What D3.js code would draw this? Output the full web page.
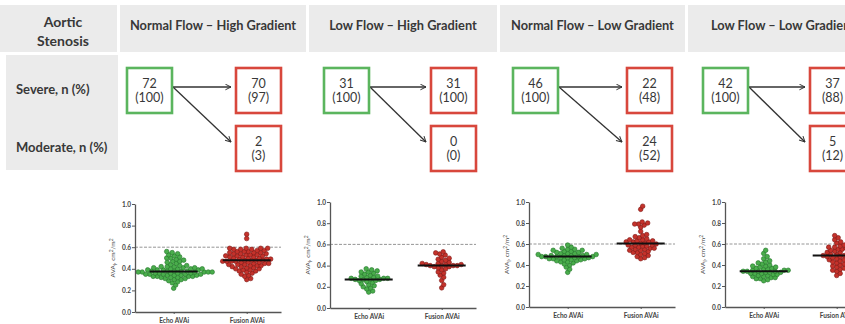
<!DOCTYPE html>
<html>
<head>
<meta charset="utf-8">
<script src="https://cdn.jsdelivr.net/npm/d3@7"></script>
<style>
  body { margin: 0; background: #fff; }
  svg { display: block; font-family: Lato, "Open Sans", sans-serif; }
</style>
</head>
<body>
<div id="chart"></div>
<script>
// ---- data ----
const categories = ["Normal Flow \u2013 High Gradient", "Low Flow \u2013 High Gradient",
                    "Normal Flow \u2013 Low Gradient", "Low Flow \u2013 Low Gradient"];
const rowLabels = ["Severe, n (%)", "Moderate, n (%)"];
const echoSevere = [72, 31, 46, 42];
const fusionSevere = [70, 31, 22, 37];
const fusionModerate = [2, 0, 24, 5];
const groupLabels = ["Echo AVAi", "Fusion AVAi"];
const yTicks = [0, 0.2, 0.4, 0.6, 0.8, 1.0];
const cutoff = 0.6;

// AVAi values (cm2/m2), one array per group
const echoNFHG = [0.22, 0.25, 0.27, 0.28, 0.29, 0.30, 0.30, 0.31, 0.31, 0.32,
  0.32, 0.32, 0.33, 0.33, 0.33, 0.33, 0.34, 0.34, 0.34, 0.34,
  0.35, 0.35, 0.35, 0.35, 0.35, 0.36, 0.36, 0.36, 0.36, 0.36,
  0.37, 0.37, 0.37, 0.37, 0.37, 0.37, 0.38, 0.38, 0.38, 0.38,
  0.38, 0.39, 0.39, 0.39, 0.39, 0.40, 0.40, 0.40, 0.40, 0.41,
  0.41, 0.41, 0.42, 0.42, 0.42, 0.43, 0.43, 0.44, 0.45, 0.46,
  0.47, 0.47, 0.48, 0.49, 0.50, 0.50, 0.51, 0.52, 0.53, 0.54,
  0.55, 0.56];
const fusionNFHG = [0.30, 0.31, 0.33, 0.34, 0.35, 0.36, 0.37, 0.38, 0.38, 0.39,
  0.39, 0.40, 0.40, 0.41, 0.41, 0.42, 0.42, 0.43, 0.43, 0.43,
  0.44, 0.44, 0.44, 0.45, 0.45, 0.45, 0.46, 0.46, 0.46, 0.47,
  0.47, 0.47, 0.47, 0.48, 0.48, 0.48, 0.48, 0.49, 0.49, 0.49,
  0.50, 0.50, 0.50, 0.51, 0.51, 0.51, 0.52, 0.52, 0.52, 0.53,
  0.53, 0.53, 0.54, 0.54, 0.54, 0.55, 0.55, 0.55, 0.56, 0.56,
  0.56, 0.57, 0.57, 0.58, 0.58, 0.58, 0.59, 0.59, 0.59, 0.59,
  0.68, 0.72];
const echoLFHG = [0.15, 0.16, 0.18, 0.19, 0.20, 0.21, 0.22, 0.23, 0.24, 0.25,
  0.26, 0.26, 0.27, 0.27, 0.27, 0.27, 0.28, 0.28, 0.28, 0.29,
  0.29, 0.30, 0.30, 0.31, 0.32, 0.33, 0.34, 0.34, 0.35, 0.36,
  0.37];
const fusionLFHG = [0.19, 0.22, 0.26, 0.29, 0.31, 0.33, 0.34, 0.36, 0.37, 0.38,
  0.39, 0.39, 0.40, 0.40, 0.40, 0.40, 0.41, 0.41, 0.41, 0.42,
  0.42, 0.43, 0.44, 0.45, 0.46, 0.47, 0.48, 0.50, 0.51, 0.52,
  0.53];
const echoNFLG = [0.33, 0.36, 0.38, 0.40, 0.41, 0.42, 0.43, 0.43, 0.44, 0.44,
  0.45, 0.45, 0.45, 0.46, 0.46, 0.46, 0.47, 0.47, 0.47, 0.47,
  0.48, 0.48, 0.48, 0.48, 0.48, 0.49, 0.49, 0.49, 0.49, 0.50,
  0.50, 0.50, 0.51, 0.51, 0.51, 0.52, 0.52, 0.53, 0.53, 0.54,
  0.54, 0.55, 0.55, 0.56, 0.57, 0.59];
const fusionNFLG = [0.46, 0.47, 0.48, 0.49, 0.50, 0.51, 0.52, 0.52, 0.53, 0.54,
  0.54, 0.55, 0.55, 0.56, 0.56, 0.57, 0.57, 0.58, 0.58, 0.59,
  0.59, 0.59, 0.60, 0.61, 0.61, 0.62, 0.62, 0.62, 0.63, 0.63,
  0.64, 0.64, 0.65, 0.66, 0.67, 0.68, 0.69, 0.72, 0.76, 0.78,
  0.79, 0.79, 0.80, 0.81, 0.93, 0.96];
const echoLFLG = [0.25, 0.26, 0.27, 0.27, 0.28, 0.28, 0.29, 0.29, 0.30, 0.30,
  0.31, 0.31, 0.32, 0.32, 0.32, 0.33, 0.33, 0.33, 0.34, 0.34,
  0.34, 0.34, 0.35, 0.35, 0.35, 0.36, 0.36, 0.37, 0.37, 0.38,
  0.38, 0.39, 0.39, 0.40, 0.41, 0.42, 0.43, 0.44, 0.46, 0.48,
  0.51, 0.54];
const fusionLFLG = [0.30, 0.32, 0.34, 0.35, 0.36, 0.37, 0.38, 0.39, 0.40, 0.41,
  0.42, 0.43, 0.44, 0.45, 0.45, 0.46, 0.47, 0.47, 0.48, 0.48,
  0.49, 0.49, 0.50, 0.50, 0.51, 0.52, 0.52, 0.53, 0.54, 0.55,
  0.55, 0.56, 0.57, 0.57, 0.58, 0.59, 0.59, 0.61, 0.62, 0.64,
  0.66, 0.68];

const scatterData = [
  [echoNFHG, fusionNFHG],
  [echoLFHG, fusionLFHG],
  [echoNFLG, fusionNFLG],
  [echoLFLG, fusionLFLG]
];

// ---- layout ----
const width = 845, height = 324;
const cols = [
  { x: 120, w: 186, green: 127, red: 236, axisX: 135, y0: 312, y1: 204 },
  { x: 309, w: 188, green: 324, red: 431, axisX: 330, y0: 308, y1: 202 },
  { x: 500, w: 185, green: 513, red: 627, axisX: 529, y0: 307, y1: 202 },
  { x: 688, w: 190, green: 703, red: 810, axisX: 725, y0: 307, y1: 202 }
];
const boxW = 45, boxH = 45;
const severeY = 68, moderateY = 126;
const axisW = 146;
const greenStroke = '#5bb55e', redStroke = '#d8473c';
const headerFill = '#ebebeb';
const textColor = '#383838';
const dotColors = [{ fill: '#4aad4c', stroke: '#23752a' }, { fill: '#c4322b', stroke: '#7d1a16' }];

const svg = d3.select('#chart').append('svg')
    .attr('width', width)
    .attr('height', height);

svg.append('defs').append('marker')
    .attr('id', 'arrow')
    .attr('viewBox', '0 0 10 10')
    .attr('refX', 9).attr('refY', 5)
    .attr('markerWidth', 7).attr('markerHeight', 7)
    .attr('markerUnits', 'userSpaceOnUse')
    .attr('orient', 'auto')
  .append('path')
    .attr('d', 'M1,1 L9,5 L1,9')
    .attr('fill', 'none')
    .attr('stroke', '#333')
    .attr('stroke-width', 1.4);

// left header + row label cells
svg.append('rect').attr('x', 0).attr('y', 5).attr('width', 117).attr('height', 47).attr('fill', headerFill);
svg.append('rect').attr('x', 6).attr('y', 55).attr('width', 112).attr('height', 115).attr('fill', headerFill);

svg.append('text').attr('x', 63).attr('y', 27)
    .attr('text-anchor', 'middle').attr('font-size', 14).attr('font-weight', 'bold')
    .attr('fill', textColor).text('Aortic');
svg.append('text').attr('x', 63).attr('y', 46)
    .attr('text-anchor', 'middle').attr('font-size', 14).attr('font-weight', 'bold')
    .attr('fill', textColor).text('Stenosis');

svg.selectAll('.row-label')
    .data(rowLabels)
    .enter().append('text')
    .attr('class', 'row-label')
    .attr('x', 16)
    .attr('y', (d, i) => i === 0 ? 94 : 152)
    .attr('font-size', 13).attr('font-weight', 'bold')
    .attr('fill', textColor)
    .text(d => d);

// column headers
svg.selectAll('.col-head')
    .data(categories)
    .enter().append('rect')
    .attr('class', 'col-head')
    .attr('x', (d, i) => cols[i].x)
    .attr('y', 5)
    .attr('width', (d, i) => cols[i].w)
    .attr('height', 47)
    .attr('fill', headerFill);

svg.selectAll('.col-title')
    .data(categories)
    .enter().append('text')
    .attr('class', 'col-title')
    .attr('x', (d, i) => cols[i].x + cols[i].w / 2)
    .attr('y', 30)
    .attr('text-anchor', 'middle')
    .attr('font-size', 12.8).attr('font-weight', 'bold')
    .attr('fill', textColor)
    .text(d => d);

// flow boxes
const pct = (n, total) => Math.round(n / total * 100);

categories.forEach((cat, i) => {
    const c = cols[i];
    const g = svg.append('g');
    const boxes = [
        { x: c.green, y: severeY, n: echoSevere[i], total: echoSevere[i], color: greenStroke },
        { x: c.red, y: severeY, n: fusionSevere[i], total: echoSevere[i], color: redStroke },
        { x: c.red, y: moderateY, n: fusionModerate[i], total: echoSevere[i], color: redStroke }
    ];

    // arrows
    const sx = c.green + boxW + 1, sy = severeY + 19;
    g.append('line')
        .attr('x1', sx).attr('y1', sy).attr('x2', c.red - 5).attr('y2', sy)
        .attr('stroke', '#333').attr('stroke-width', 1.3).attr('marker-end', 'url(#arrow)');
    g.append('line')
        .attr('x1', sx).attr('y1', sy).attr('x2', c.red - 5).attr('y2', moderateY + 16)
        .attr('stroke', '#333').attr('stroke-width', 1.3).attr('marker-end', 'url(#arrow)');

    const b = g.selectAll('.box').data(boxes).enter().append('g').attr('class', 'box');
    b.append('rect')
        .attr('x', d => d.x).attr('y', d => d.y)
        .attr('width', boxW).attr('height', boxH)
        .attr('fill', '#fff')
        .attr('stroke', d => d.color).attr('stroke-width', 2.6);
    b.append('text')
        .attr('x', d => d.x + boxW / 2).attr('y', d => d.y + 20)
        .attr('text-anchor', 'middle').attr('font-size', 12.5).attr('fill', textColor)
        .text(d => d.n);
    b.append('text')
        .attr('x', d => d.x + boxW / 2).attr('y', d => d.y + 34)
        .attr('text-anchor', 'middle').attr('font-size', 12.5).attr('fill', textColor)
        .text(d => '(' + pct(d.n, d.total) + ')');
});

// beeswarm placement: each point goes to its value's height, nudged sideways until it clears the others
function dodge(values, cx, y, gap) {
    const placed = [];
    values.slice().sort(d3.ascending).forEach(v => {
        const cy = y(v);
        let off = 0;
        for (let k = 0; k < 400; k++) {
            const cand = (k % 2 ? 1 : -1) * Math.ceil(k / 2) * 0.5;
            if (placed.every(p => (p.x - cand) ** 2 + (p.y - cy) ** 2 >= gap * gap)) { off = cand; break; }
        }
        placed.push({ x: off, y: cy });
    });
    return placed.map(p => ({ cx: cx + p.x, cy: p.y }));
}

// scatter panels
scatterData.forEach((groups, i) => {
    const c = cols[i];
    const y = d3.scaleLinear().domain([0, 1]).range([c.y0, c.y1]);
    const x = d3.scalePoint().domain(groupLabels)
        .range([c.axisX, c.axisX + axisW]).padding(0.5).align(0.53);
    const g = svg.append('g').attr('class', 'panel');

    g.append('line')
        .attr('x1', c.axisX).attr('x2', c.axisX + axisW)
        .attr('y1', y(cutoff)).attr('y2', y(cutoff))
        .attr('stroke', '#8a8a8a').attr('stroke-width', 0.9).attr('stroke-dasharray', '3,1.5');

    groups.forEach((vals, j) => {
        const pts = dodge(vals, x(groupLabels[j]), y, 3.7);
        g.selectAll(null).data(pts).enter().append('circle')
            .attr('cx', d => d.cx).attr('cy', d => d.cy).attr('r', 2.3)
            .attr('fill', dotColors[j].fill)
            .attr('stroke', dotColors[j].stroke).attr('stroke-width', 0.6);
        const med = d3.median(vals);
        g.append('line')
            .attr('x1', x(groupLabels[j]) - 24).attr('x2', x(groupLabels[j]) + 24)
            .attr('y1', y(med)).attr('y2', y(med))
            .attr('stroke', '#111').attr('stroke-width', 2);
    });

    const yAxis = g.append('g')
        .attr('transform', `translate(${c.axisX},0)`)
        .call(d3.axisLeft(y).tickValues(yTicks).tickFormat(d3.format('.1f')).tickSize(3).tickSizeOuter(0));
    const xAxis = g.append('g')
        .attr('transform', `translate(0,${c.y0})`)
        .call(d3.axisBottom(x).tickSize(2).tickSizeOuter(0));
    [yAxis, xAxis].forEach(a => {
        a.select('.domain').attr('stroke', '#555').attr('stroke-width', 1.3);
        a.selectAll('.tick line').attr('stroke', '#555');
        a.selectAll('.tick text').attr('fill', '#444').attr('font-size', 6.5)
            .attr('font-family', 'Lato, sans-serif').attr('font-weight', 'bold');
    });
    yAxis.selectAll('.tick text').attr('x', -4);
    xAxis.selectAll('.tick text').attr('y', 6);

    const title = g.append('text')
        .attr('transform', `translate(${c.axisX - 20},${y(0.5)}) rotate(-90)`)
        .attr('text-anchor', 'middle').attr('font-size', 6.5).attr('fill', '#444');
    title.append('tspan').text('AVA');
    title.append('tspan').attr('font-size', 5).attr('dy', 1.5).text('i');
    title.append('tspan').attr('dy', -1.5).text(', cm');
    title.append('tspan').attr('font-size', 5).attr('dy', -2.5).text('2');
    title.append('tspan').attr('dy', 2.5).text('/m');
    title.append('tspan').attr('font-size', 5).attr('dy', -2.5).text('2');
});
</script>
</body>
</html>
